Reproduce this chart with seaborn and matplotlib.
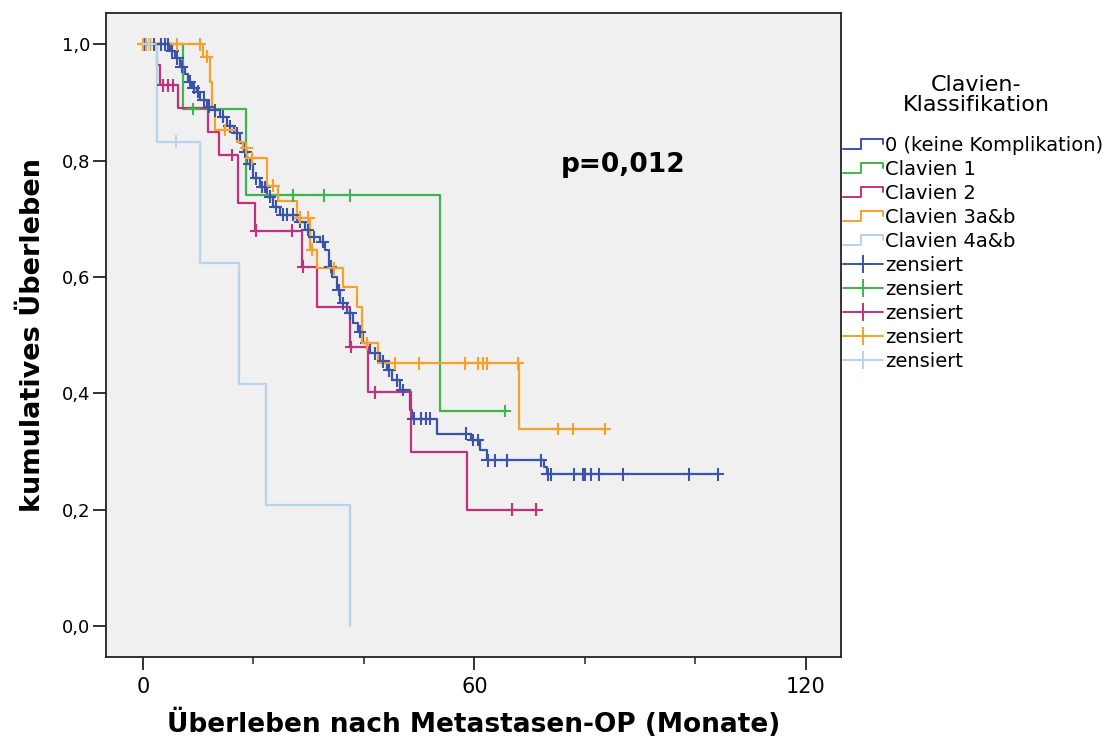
import numpy as np
import pandas as pd
import matplotlib
matplotlib.use("Agg")
import matplotlib.pyplot as plt
import seaborn as sns
from matplotlib.lines import Line2D
from matplotlib.legend_handler import HandlerBase

# ---- Kaplan-Meier step data (months, cumulative survival) ----
groups = ["0 (keine Komplikation)", "Clavien 1", "Clavien 2", "Clavien 3a&b", "Clavien 4a&b"]
colors = ["#3c54a8", "#3fb54e", "#c2327c", "#f6a12a", "#b7d4ef"]

blue_t = [4.9, 5.8, 6.7, 7.6, 8.2, 8.8, 9.7, 10.3, 11.6, 12.7, 14.0, 15.2, 16.4, 17.6, 18.2,
          18.8, 20.0, 21.2, 22.4, 23.6, 24.8, 27.9, 29.4, 30.3, 32.1, 33.0, 33.6, 34.2, 35.1,
          35.7, 36.9, 38.1, 39.0, 39.9, 41.1, 43.0, 44.2, 45.1, 46.6, 48.4, 48.7, 53.3, 59.3,
          61.1, 62.3, 72.6, 73.2]
blue_s = [0.988, 0.976, 0.962, 0.950, 0.936, 0.925, 0.919, 0.905, 0.893, 0.887, 0.876, 0.859,
          0.847, 0.830, 0.815, 0.795, 0.770, 0.755, 0.738, 0.721, 0.707, 0.695, 0.681, 0.669,
          0.661, 0.647, 0.618, 0.601, 0.578, 0.555, 0.538, 0.521, 0.506, 0.486, 0.469, 0.455,
          0.440, 0.423, 0.406, 0.371, 0.357, 0.331, 0.320, 0.303, 0.285, 0.274, 0.261]
blue_end = 104.3
blue_cens = [0.3, 1.2, 2.0, 3.3, 4.0, 4.5, 5.3, 6.2, 7.0, 8.5, 9.2, 10.0, 11.0, 12.0, 13.0,
             14.5, 15.7, 17.0, 18.5, 19.3, 20.5, 21.6, 22.0, 23.0, 24.0, 25.3, 26.0, 27.2,
             28.5, 29.8, 31.0, 32.5, 34.0, 35.4, 36.2, 37.5, 39.3, 40.5, 42.0, 43.5, 44.6,
             46.0, 47.0, 49.0, 50.3, 51.2, 52.0, 58.4, 59.8, 60.6, 62.4, 63.8, 65.9, 72.0,
             73.3, 73.8, 78.0, 79.6, 80.1, 81.1, 82.5, 87.0, 98.8, 104.1]

green_t = [7.3, 18.7, 53.7]
green_s = [0.889, 0.741, 0.370]
green_end = 65.5
green_cens = [9.1, 27.1, 32.7, 37.4, 65.5]

mag_t = [2.5, 3.0, 6.3, 11.8, 13.8, 17.2, 20.3, 28.8, 31.5, 37.5, 40.8, 48.6, 58.7]
mag_s = [0.965, 0.930, 0.891, 0.850, 0.810, 0.727, 0.680, 0.618, 0.549, 0.480, 0.402, 0.300, 0.200]
mag_end = 71.2
mag_cens = [3.6, 4.5, 5.4, 16.1, 20.5, 27.0, 29.0, 37.7, 42.0, 66.8, 71.2]

orange_t = [10.9, 12.1, 12.5, 13.0, 17.0, 18.1, 18.9, 22.4, 24.4, 27.9, 30.3, 31.5, 36.2,
            38.7, 39.6, 42.6, 68.1]
orange_s = [0.979, 0.935, 0.891, 0.853, 0.833, 0.822, 0.804, 0.757, 0.730, 0.702, 0.647,
            0.615, 0.583, 0.549, 0.486, 0.452, 0.339]
orange_end = 83.6
orange_cens = [0.0, 0.6, 1.3, 6.1, 10.3, 11.5, 14.9, 18.7, 19.7, 23.6, 28.5, 29.9, 30.6,
               34.5, 40.6, 45.7, 50.0, 58.3, 60.7, 61.6, 62.2, 67.9, 75.1, 77.9, 83.6]

lblue_t = [2.5, 10.3, 17.3, 22.2, 37.5]
lblue_s = [0.833, 0.625, 0.416, 0.208, 0.0]
lblue_end = 37.5
lblue_cens = [1.0, 6.0]

curves = [
    (blue_t, blue_s, blue_end, blue_cens),
    (green_t, green_s, green_end, green_cens),
    (mag_t, mag_s, mag_end, mag_cens),
    (orange_t, orange_s, orange_end, orange_cens),
    (lblue_t, lblue_s, lblue_end, lblue_cens),
]

step_rows, cens_rows = [], []
for name, (t, s, end, cens) in zip(groups, curves):
    xs = [0.0] + list(t) + [end]
    ys = [1.0] + list(s) + [s[-1]]
    for x, y in zip(xs, ys):
        step_rows.append((name, x, y))
    levels = np.array([1.0] + list(s))
    idx = np.searchsorted(np.array(t), np.array(cens), side="right")
    for c, i in zip(cens, idx):
        cens_rows.append((name, c, levels[i]))

steps = pd.DataFrame(step_rows, columns=["Gruppe", "Monate", "Überleben"])
censored = pd.DataFrame(cens_rows, columns=["Gruppe", "Monate", "Überleben"])

# ---- styling ----
sns.set_style("ticks", {"axes.facecolor": "#f0f0f0", "axes.edgecolor": "#222222",
                        "text.color": "black", "axes.labelcolor": "black",
                        "xtick.color": "#222222", "ytick.color": "#222222"})
plt.rcParams["font.family"] = ["DejaVu Sans"]

fig = plt.figure(figsize=(11.15, 7.43), dpi=100)
ax = fig.add_axes([0.0951, 0.1157, 0.6592, 0.8668])

sns.lineplot(data=steps, x="Monate", y="Überleben", hue="Gruppe", hue_order=groups,
             palette=colors, estimator=None, sort=False, drawstyle="steps-post",
             linewidth=1.6, legend=False, ax=ax)
sns.scatterplot(data=censored, x="Monate", y="Überleben", hue="Gruppe", hue_order=groups,
                palette=colors, marker="+", s=85, linewidth=1.5, legend=False, ax=ax,
                zorder=3)

ax.set_xlim(-6.7, 126.4)
ax.set_ylim(-0.053, 1.054)
ax.set_xticks([0, 60, 120])
ax.set_xticks([20, 40, 80, 100], minor=True)
yt = [0.0, 0.2, 0.4, 0.6, 0.8, 1.0]
ax.set_yticks(yt)
ax.set_yticklabels([f"{v:.1f}".replace(".", ",") for v in yt], fontsize=13, color="black")
ax.set_xticklabels(["0", "60", "120"], fontsize=15, color="black")
ax.tick_params(axis="both", which="major", length=9.5, width=1.3, color="#222222")
ax.tick_params(axis="y", pad=2)
ax.tick_params(axis="x", pad=5)
ax.tick_params(axis="x", which="minor", length=5, width=1.1, color="#222222")
for sp in ax.spines.values():
    sp.set_linewidth(1.3)

ax.set_xlabel("Überleben nach Metastasen-OP (Monate)", fontsize=19, fontweight="bold",
              labelpad=8, color="black")
ax.set_ylabel("kumulatives Überleben", fontsize=19.5, fontweight="bold", labelpad=11,
              color="black")

ax.text(86.9, 0.793, "p=0,012", fontsize=19, fontweight="bold", ha="center", va="center",
        color="black")


class StepHandler(HandlerBase):
    def create_artists(self, legend, orig_handle, xdescent, ydescent, width, height,
                       fontsize, trans):
        x0, y0 = -xdescent, -ydescent
        xs = [x0, x0 + 0.45 * width, x0 + 0.45 * width, x0 + width, x0 + width]
        ys = [y0 + 0.15 * height, y0 + 0.15 * height, y0 + 0.85 * height,
              y0 + 0.85 * height, y0 + 0.5 * height]
        ln = Line2D(xs, ys, color=orig_handle.get_color(), lw=1.4, transform=trans)
        return [ln]


step_handles = [Line2D([], [], color=c) for c in colors]
cens_handles = [Line2D([], [], color=c, marker="+", markersize=13, markeredgewidth=1.4,
                       lw=1.4) for c in colors]
handler_map = {h: StepHandler() for h in step_handles}
leg = fig.legend(step_handles + cens_handles, groups + ["zensiert"] * 5,
                 handler_map=handler_map, loc="upper left",
                 bbox_to_anchor=(0.756, 0.817), frameon=False, fontsize=14,
                 handlelength=2.05, handletextpad=0.1, labelspacing=0.255,
                 borderpad=0.0, borderaxespad=0.0, labelcolor="black")
fig.text(0.8755, 1 - 95 / 743, "Clavien-\nKlassifikation", fontsize=16, ha="center",
         va="center", multialignment="center", linespacing=1.0, color="black")

fig.savefig("out.png", dpi=100)
